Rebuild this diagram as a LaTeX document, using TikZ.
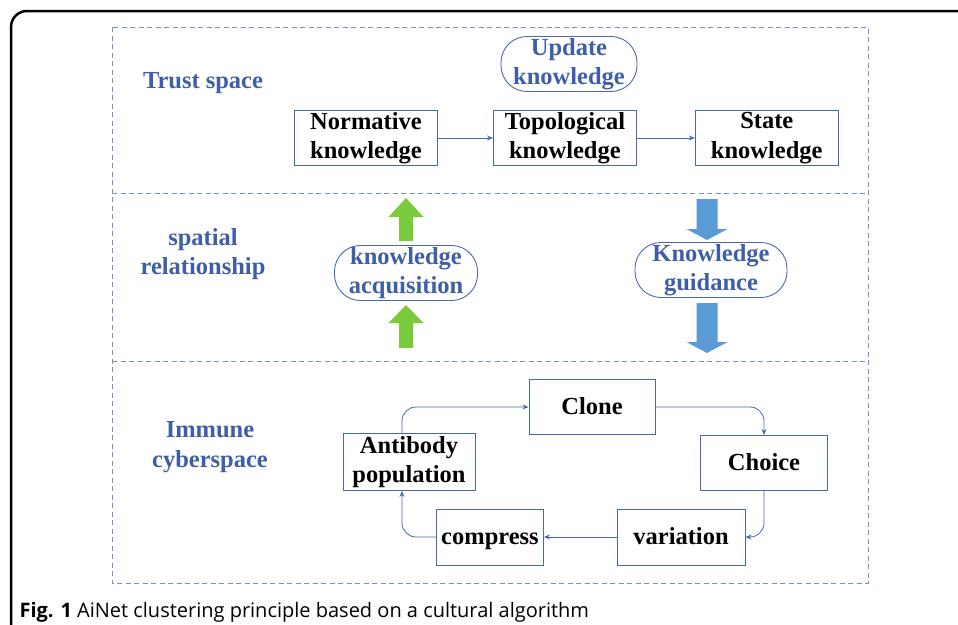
\documentclass[tikz,border=0pt]{standalone}
\usepackage{fontspec}
\setmainfont{Liberation Serif}
\newfontfamily\captionfont{Open Sans}
\usetikzlibrary{arrows.meta,positioning}
\definecolor{63_94_168}{RGB}{63, 94, 168}
\definecolor{72_104_178}{RGB}{72, 104, 178}
\definecolor{120_145_200}{RGB}{120, 145, 200}
\definecolor{122_203_60}{RGB}{122, 203, 60}
\definecolor{91_155_213}{RGB}{91, 155, 213}

\begin{document}
\begin{tikzpicture}[
        x=1pt, y=-1pt,
        font=\fontsize{24.5}{29.5}\selectfont\bfseries,
        box/.style={
            draw=72_104_178,
            line width=0.9pt,
            minimum width=143pt,
            minimum height=55pt,
            inner sep=0pt,
            align=center
        },
        one line/.style={text height=17pt, text depth=2pt},
        pill/.style={
            box,
            rounded corners=26pt,
            text=63_94_168
        },
        space label/.style={text=63_94_168, align=center},
        flow/.style={draw=72_104_178, line width=0.8pt, -{Stealth[length=6pt,width=5pt]}},
        layer/.style={draw=120_145_200, line width=1pt, dash pattern=on 5pt off 3.5pt}
    ]

    \useasboundingbox (0,0) rectangle (958,624);
    \clip (0,0) rectangle (958,624);

    % outer frame of the figure
    \draw[line width=2.5pt, rounded corners=16pt] (11,660) -- (11,11) -- (990,11);

    % the three spaces
    \draw[layer] (112,27) rectangle (868,583);
    \draw[layer] (112,193) -- (868,193);
    \draw[layer] (112,361) -- (868,361);

    \node[space label] (trust) at (203,83) {Trust space};
    \node[space label] (spatial) at (203,254) {spatial\\relationship};
    \node[space label] (immune) at (210,447) {Immune\\cyberspace};

    % trust space
    \node[pill, minimum width=136pt] (update) at (569,64) {Update\\knowledge};
    \node[box] (normative) at (366,138) {Normative\\knowledge};
    \node[box, right=55pt of normative] (topological) {Topological\\knowledge};
    \node[box, right=58pt of topological] (state) {State\\knowledge};
    \draw[flow] (normative) -- (topological);
    \draw[flow] (topological) -- (state);

    % spatial relationship
    \node[pill, minimum width=143pt] (acquisition) at (406,273) {knowledge\\acquisition};
    \node[pill, minimum width=152pt] (guidance) at (711,270) {Knowledge\\guidance};

    \fill[122_203_60] (399,241) -- ++(0,-24) -- ++(-10.5,0) -- (406,198) -- (423.5,217) -- ++(-10.5,0) -- ++(0,24) -- cycle;
    \fill[122_203_60] (399,348) -- ++(0,-25) -- ++(-10.5,0) -- (406,305) -- (423.5,323) -- ++(-10.5,0) -- ++(0,25) -- cycle;
    \fill[91_155_213] (696.5,199) -- ++(0,30) -- ++(-10,0) -- (707,240) -- (727.5,229) -- ++(-10,0) -- ++(0,-30) -- cycle;
    \fill[91_155_213] (696.5,303) -- ++(0,39) -- ++(-10,0) -- (707,353) -- (727.5,342) -- ++(-10,0) -- ++(0,-39) -- cycle;

    % immune cyberspace
    \node[box, one line, minimum width=126pt] (clone) at (592,407) {Clone};
    \node[box, minimum width=132pt, minimum height=57pt] (antibody) at (409,462) {Antibody\\population};
    \node[box, one line, minimum width=127pt] (choice) at (764,463) {Choice};
    \node[box, one line, minimum width=128pt, minimum height=56pt] (variation) at (681,537) {variation};
    \node[box, one line, minimum width=107pt, minimum height=56pt] (compress) at (490,537) {compress};

    \draw[flow, rounded corners=14pt] ([xshift=-7pt]antibody.north) |- (clone.west);
    \draw[flow, rounded corners=14pt] (clone.east) -| (choice.north);
    \draw[flow, rounded corners=14pt] (choice.south) |- (variation.east);
    \draw[flow] (variation.west) -- (compress.east);
    \draw[flow, rounded corners=14pt] (compress.west) -| ([xshift=-7pt]antibody.south);

    \node[anchor=base west, font=\captionfont\fontsize{20}{24}\selectfont] (caption) at (16,617)
        {\textbf{Fig. 1} AiNet clustering principle based on a cultural algorithm};
\end{tikzpicture}
\end{document}
